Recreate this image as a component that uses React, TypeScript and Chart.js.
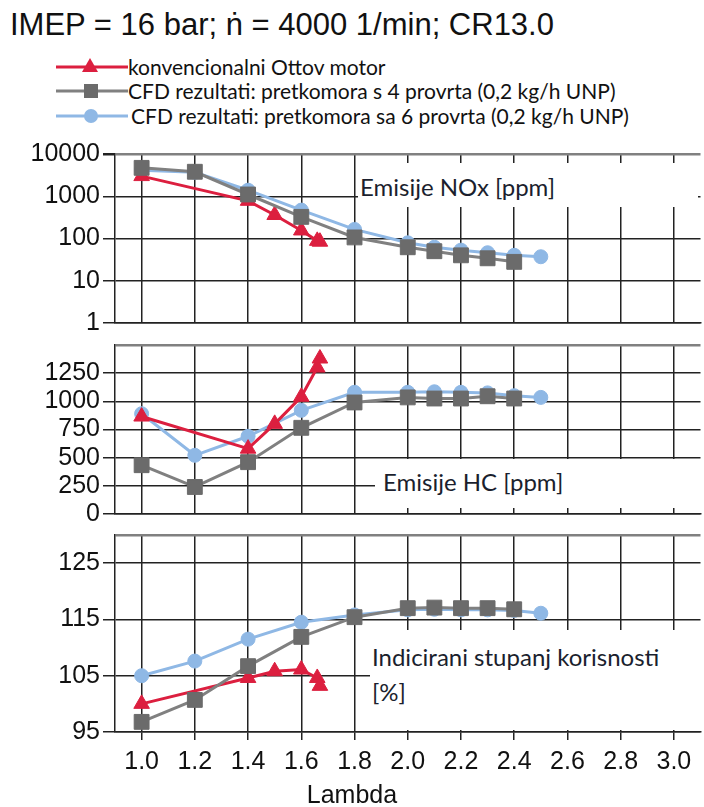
import React, { useEffect, useRef } from "react";
import { Chart, registerables } from "chart.js";

Chart.register(...registerables);

// ---------- text ----------
const TITLE = "IMEP = 16 bar; ṅ = 4000 1/min; CR13.0";
const SERIES_NAMES = [
  "konvencionalni Ottov motor",
  "CFD rezultati: pretkomora s 4 provrta (0,2 kg/h UNP)",
  "CFD rezultati: pretkomora sa 6 provrta (0,2 kg/h UNP)",
];
const PANEL_LABELS = ["Emisije NOx [ppm]", "Emisije HC [ppm]", "Indicirani stupanj korisnosti", "[%]"];
const X_TITLE = "Lambda";

// ---------- axes ----------
const X_TICKS = [1.0, 1.2, 1.4, 1.6, 1.8, 2.0, 2.2, 2.4, 2.6, 2.8, 3.0];
const NOX_TICKS = [1, 10, 100, 1000, 10000];
const HC_TICKS = [0, 250, 500, 750, 1000, 1250, 1500];
const ETA_TICKS = [95, 105, 115, 125, 130];

// ---------- data ----------
const LAMBDA_GRAY = [1.0, 1.2, 1.4, 1.6, 1.8, 2.0, 2.1, 2.2, 2.3, 2.4];
const LAMBDA_BLUE = [1.0, 1.2, 1.4, 1.6, 1.8, 2.0, 2.1, 2.2, 2.3, 2.4, 2.5];
const LAMBDA_RED = [1.0, 1.4, 1.5, 1.6, 1.66, 1.67];

const NOX_RED = [3000, 780, 360, 155, 88, 84];
const NOX_GRAY = [4700, 3800, 1100, 325, 106, 62, 50, 40, 34, 28];
const NOX_BLUE = [4150, 3700, 1390, 470, 164, 79, 62, 53, 46, 40, 37];

const HC_RED = [865, 580, 800, 1040, 1300, 1380];
const HC_GRAY = [433, 240, 460, 765, 990, 1035, 1025, 1025, 1045, 1025];
const HC_BLUE = [890, 521, 690, 920, 1080, 1080, 1085, 1080, 1075, 1050, 1035];

const ETA_RED = [100.0, 104.6, 105.8, 106.1, 104.6, 103.2];
const ETA_GRAY = [96.8, 100.7, 106.7, 111.9, 115.4, 117.0, 117.1, 117.0, 117.0, 116.8];
const ETA_BLUE = [105.0, 107.6, 111.5, 114.5, 115.8, 116.7, 116.8, 116.7, 116.7, 116.6, 116.1];

// ---------- style ----------
const RED = "#dc1f3f";
const GRAY_LINE = "#808080";
const GRAY_MARK = "#6b6b6b";
const BLUE = "#8fb8e5";
const GRID = "#222222";
const TOP_BORDER = "#808080";
const AREA_LEFT = 115;
const AREA_RIGHT = 705;
const CANVAS_W = 712;
const TICK_FONT = "'Liberation Sans', Arial, sans-serif";
const LABEL_FONT = "Lato, 'Open Sans', sans-serif";

const pts = (xs: number[], ys: number[]) => xs.map((x, i) => ({ x, y: ys[i] }));

function makeDatasets(red: number[], gray: number[], blue: number[]) {
  return [
    {
      label: SERIES_NAMES[1],
      data: pts(LAMBDA_GRAY, gray),
      borderColor: GRAY_LINE,
      backgroundColor: GRAY_MARK,
      pointBackgroundColor: GRAY_MARK,
      pointBorderColor: GRAY_MARK,
      borderWidth: 3,
      pointStyle: "rect",
      pointRadius: 10.5,
      pointBorderWidth: 1,
      tension: 0,
    },
    {
      label: SERIES_NAMES[0],
      data: pts(LAMBDA_RED, red),
      borderColor: RED,
      backgroundColor: RED,
      pointBackgroundColor: RED,
      pointBorderColor: RED,
      borderWidth: 3,
      pointStyle: "triangle",
      pointRadius: 9,
      pointBorderWidth: 1,
      tension: 0,
    },
    {
      label: SERIES_NAMES[2],
      data: pts(LAMBDA_BLUE, blue),
      borderColor: BLUE,
      backgroundColor: BLUE,
      pointBackgroundColor: BLUE,
      pointBorderColor: BLUE,
      borderWidth: 3,
      pointStyle: "circle",
      pointRadius: 7,
      pointBorderWidth: 1,
      tension: 0,
    },
  ];
}

type PanelProps = {
  top: number;
  plotHeight: number;
  showX: boolean;
  yType: "linear" | "logarithmic";
  yMin: number;
  yMax: number;
  yTicks: number[];
  hideTopLabel: boolean;
  hideTopTick: boolean;
  datasets: any[];
};

const PAD_TOP = 30;
const X_AXIS_H = 55;

function Panel(p: PanelProps) {
  const ref = useRef<HTMLCanvasElement>(null);
  const xAxisH = p.showX ? X_AXIS_H : 0;
  const padBottom = 20;
  const height = PAD_TOP + p.plotHeight + xAxisH + padBottom;
  useEffect(() => {
    const chart = new Chart(ref.current!, {
      type: "line",
      data: { datasets: p.datasets },
      options: {
        animation: false,
        responsive: false,
        maintainAspectRatio: false,
        devicePixelRatio: 1,
        layout: { padding: { top: PAD_TOP, bottom: padBottom, left: 0, right: CANVAS_W - AREA_RIGHT } },
        plugins: { legend: { display: false }, tooltip: { enabled: false }, title: { display: false } },
        scales: {
          x: {
            type: "linear",
            min: 0.9,
            max: 3.1,
            afterBuildTicks: (s: any) => {
              s.ticks = X_TICKS.map((v) => ({ value: v }));
            },
            afterFit: (s: any) => {
              s.height = xAxisH;
            },
            grid: { color: GRID, lineWidth: 1.5, drawTicks: p.showX, tickLength: 8, tickColor: GRID },
            border: { display: true, color: GRID, width: 1.5 },
            ticks: {
              display: p.showX,
              autoSkip: false,
              maxRotation: 0,
              padding: 7,
              color: "#111",
              font: { family: TICK_FONT, size: 25 },
              callback: (v: any) => Number(v).toFixed(1),
            },
          },
          y: {
            type: p.yType,
            min: p.yMin,
            max: p.yMax,
            afterBuildTicks: (s: any) => {
              s.ticks = p.yTicks.map((v) => ({ value: v }));
            },
            afterFit: (s: any) => {
              s.width = AREA_LEFT;
            },
            grid: {
              color: (c: any) => (c.tick && c.tick.value === p.yMax ? TOP_BORDER : GRID),
              lineWidth: (c: any) => (c.tick && c.tick.value === p.yMax ? 2.5 : 1.5),
              tickColor: (c: any) => (c.tick && c.tick.value === p.yMax && p.hideTopTick ? "rgba(0,0,0,0)" : GRID),
              tickLength: 12,
              drawTicks: true,
            },
            border: { display: true, color: GRID, width: 1.5 },
            ticks: {
              autoSkip: false,
              padding: 3,
              color: "#111",
              font: { family: TICK_FONT, size: 25 },
              callback: (v: any) => (p.hideTopLabel && Number(v) === p.yMax ? "" : String(v)),
            },
          },
        },
      } as any,
    });
    return () => chart.destroy();
  }, []);
  return (
    <canvas
      ref={ref}
      width={CANVAS_W}
      height={height}
      style={{ position: "absolute", left: 0, top: p.top - PAD_TOP, width: CANVAS_W, height }}
    />
  );
}

function LegendRow({ y, textX, marker, color, lineColor, text }: any) {
  return (
    <div style={{ position: "absolute", left: 0, top: y - 12, height: 24, width: 704 }}>
      <svg width={80} height={24} style={{ position: "absolute", left: 52, top: 0 }}>
        <line x1={4} y1={12} x2={76} y2={12} stroke={lineColor} strokeWidth={3} />
        {marker === "triangle" && <polygon points="38,3 46,17 30,17" fill={color} />}
        {marker === "rect" && <rect x={32} y={5} width={14} height={14} fill={color} />}
        {marker === "circle" && <circle cx={39} cy={12} r={7} fill={color} />}
      </svg>
      <div
        style={{
          position: "absolute",
          left: textX,
          top: 0,
          lineHeight: "24px",
          fontFamily: LABEL_FONT,
          fontSize: 21,
          color: "#111",
          whiteSpace: "nowrap",
        }}
      >
        {text}
      </div>
    </div>
  );
}

function Box({ x, y, w, h, lines, textX, lineYs }: any) {
  return (
    <div style={{ position: "absolute", left: x, top: y, width: w, height: h, background: "#fff" }}>
      {lines.map((t: string, i: number) => (
        <div
          key={i}
          style={{
            position: "absolute",
            left: textX - x,
            top: lineYs[i] - y - 15,
            height: 30,
            lineHeight: "30px",
            fontFamily: LABEL_FONT,
            fontSize: 24,
            color: "#1b1f2e",
            whiteSpace: "nowrap",
          }}
        >
          {t}
        </div>
      ))}
    </div>
  );
}

export default function App() {
  return (
    <div
      style={{
        position: "fixed",
        left: 0,
        top: 0,
        width: 704,
        height: 807,
        overflow: "hidden",
        background: "#fff",
      }}
    >
      <div
        style={{
          position: "absolute",
          left: 10,
          top: 7,
          fontFamily: TICK_FONT,
          fontSize: 31,
          lineHeight: "36px",
          color: "#111",
          whiteSpace: "nowrap",
        }}
      >
        {TITLE}
      </div>
      <LegendRow y={67} textX={128} marker="triangle" color={RED} lineColor={RED} text={SERIES_NAMES[0]} />
      <LegendRow y={91} textX={128} marker="rect" color={GRAY_MARK} lineColor={GRAY_LINE} text={SERIES_NAMES[1]} />
      <LegendRow y={116} textX={131} marker="circle" color={BLUE} lineColor={BLUE} text={SERIES_NAMES[2]} />

      <Panel
        top={154}
        plotHeight={169}
        showX={false}
        yType="logarithmic"
        yMin={1}
        yMax={10000}
        yTicks={NOX_TICKS}
        hideTopLabel={false}
        hideTopTick={false}
        datasets={makeDatasets(NOX_RED, NOX_GRAY, NOX_BLUE)}
      />
      <Panel
        top={345}
        plotHeight={169}
        showX={false}
        yType="linear"
        yMin={0}
        yMax={1500}
        yTicks={HC_TICKS}
        hideTopLabel={true}
        hideTopTick={true}
        datasets={makeDatasets(HC_RED, HC_GRAY, HC_BLUE)}
      />
      <Panel
        top={535}
        plotHeight={197}
        showX={true}
        yType="linear"
        yMin={95}
        yMax={130}
        yTicks={ETA_TICKS}
        hideTopLabel={true}
        hideTopTick={true}
        datasets={makeDatasets(ETA_RED, ETA_GRAY, ETA_BLUE)}
      />

      <Box x={358} y={163} w={340} h={44} lines={[PANEL_LABELS[0]]} textX={360} lineYs={[187]} />
      <Box x={375} y={459} w={326} h={49} lines={[PANEL_LABELS[1]]} textX={383} lineYs={[482]} />
      <Box x={370} y={630} w={331} h={100} lines={[PANEL_LABELS[2], PANEL_LABELS[3]]} textX={372} lineYs={[657, 692]} />

      <div
        style={{
          position: "absolute",
          left: 352 - 60,
          width: 120,
          textAlign: "center",
          top: 779,
          lineHeight: "30px",
          fontFamily: TICK_FONT,
          fontSize: 25,
          color: "#111",
        }}
      >
        {X_TITLE}
      </div>
    </div>
  );
}
